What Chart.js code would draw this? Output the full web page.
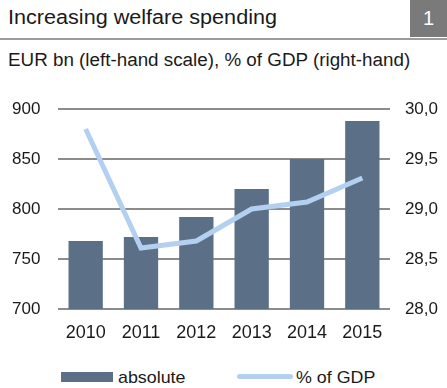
<!DOCTYPE html>
<html>
<head>
<meta charset="utf-8">
<script src="https://cdn.jsdelivr.net/npm/chart.js@4"></script>
<style>
  html, body { margin: 0; padding: 0; background: #fff; }
  body { width: 447px; height: 388px; position: relative; overflow: hidden;
         font-family: "Liberation Sans", Arial, sans-serif; color: #1a1a1a; }
  .abs { position: absolute; white-space: nowrap; line-height: 1; transform-origin: 0 0; }
  #title { left: 8px; top: 7px; font-size: 20px; transform: scaleX(1.08); }
  #badge { left: 410px; top: 0; width: 37px; height: 37px; background: #7a7a7a;
           color: #fff; font-size: 20px; text-align: center; line-height: 37px; }
  #rule { left: 0; top: 38px; width: 447px; height: 2px; background: #9c9c9c; }
  #subtitle { left: 8px; top: 51px; font-size: 18px; transform: scaleX(1.045); }
  #chartBox { position: absolute; left: 0; top: 90px; width: 447px; height: 260px; }
  .swatch { position: absolute; }
  .legendText { font-size: 17px; top: 369px; transform: scaleX(1.05); }
</style>
</head>
<body>
<div id="title" class="abs">Increasing welfare spending</div>
<div id="badge" class="abs">1</div>
<div id="rule" class="abs"></div>
<div id="subtitle" class="abs">EUR bn (left-hand scale), % of GDP (right-hand)</div>
<div id="chartBox"><canvas id="welfareChart" width="447" height="260"></canvas></div>

<div class="swatch" style="left:61px; top:372px; width:52px; height:10px; background:#5b7086;"></div>
<div class="abs legendText" style="left:118px;">absolute</div>
<div class="swatch" style="left:237px; top:374px; width:56px; height:5px; border-radius:3px; background:#b4d0f0;"></div>
<div class="abs legendText" style="left:296px;">% of GDP</div>

<script>
// Welfare spending, EUR bn, and share of GDP
const years = ['2010', '2011', '2012', '2013', '2014', '2015'];
const absoluteValues = [768, 772, 792, 820, 850, 888];
const gdpShare = [29.8, 28.61, 28.68, 29.0, 29.07, 29.31];

const BAR_COLOR = '#5b7086';
const LINE_COLOR = '#b4d0f0';
const GRID_COLOR = '#8c8c8c';
const FONT_FAMILY = '"Liberation Sans", Arial, sans-serif';
const yTickFont = { family: FONT_FAMILY, size: 17 };
const xTickFont = { family: FONT_FAMILY, size: 18 };

const ctx = document.getElementById('welfareChart').getContext('2d');
const welfareChart = new Chart(ctx, {
    data: {
        labels: years,
        datasets: [
            {
                type: 'line',
                label: '% of GDP',
                data: gdpShare,
                yAxisID: 'y1',
                borderColor: LINE_COLOR,
                borderWidth: 5,
                pointRadius: 0,
                tension: 0,
                order: 0
            },
            {
                type: 'bar',
                label: 'absolute',
                data: absoluteValues,
                yAxisID: 'y',
                backgroundColor: BAR_COLOR,
                barPercentage: 0.62,
                categoryPercentage: 1,
                order: 1
            }
        ]
    },
    options: {
        responsive: false,
        animation: false,
        events: [],
        // tick padding on y axes also pads the top, so labels are placed with crossAlign instead
        layout: { padding: { top: 19, left: 12, right: 9, bottom: 0 } },
        plugins: {
            legend: { display: false },
            tooltip: { enabled: false }
        },
        scales: {
            x: {
                grid: { display: false },
                border: { display: false },
                ticks: { color: '#1a1a1a', font: xTickFont, padding: 5, maxRotation: 0 },
                afterFit: scale => { scale.height = 41; }
            },
            y: {
                position: 'left',
                min: 700,
                max: 900,
                ticks: { stepSize: 50, color: '#1a1a1a', font: yTickFont, padding: 0, crossAlign: 'far' },
                grid: { color: GRID_COLOR, lineWidth: 2, drawTicks: false },
                border: { display: false },
                afterFit: scale => { scale.width = 46; }
            },
            y1: {
                position: 'right',
                min: 28,
                max: 30,
                ticks: {
                    stepSize: 0.5,
                    color: '#1a1a1a',
                    font: yTickFont,
                    padding: 0,
                    crossAlign: 'far',
                    callback: v => v.toFixed(1).replace('.', ',')
                },
                grid: { drawOnChartArea: false, drawTicks: false },
                border: { display: false },
                afterFit: scale => { scale.width = 48; }
            }
        }
    }
});
</script>
</body>
</html>
